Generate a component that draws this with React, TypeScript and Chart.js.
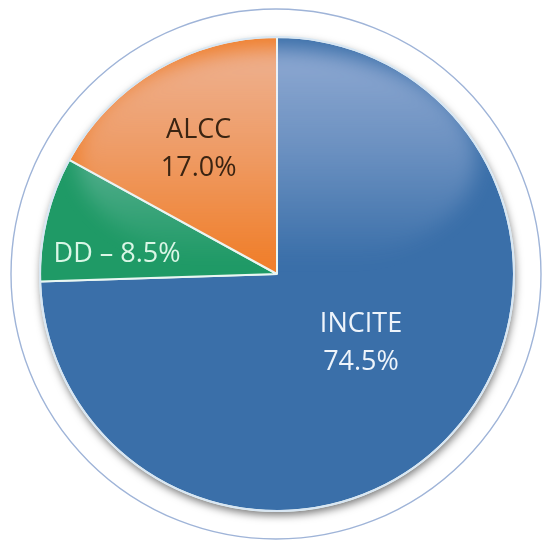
import React, { useEffect, useRef } from "react";
import { Chart, registerables } from "chart.js";

Chart.register(...registerables);

const categories = ["INCITE", "DD", "ALCC"];
const shares = [74.5, 8.5, 17.0];
const labelLines = [["INCITE", "74.5%"], ["DD – 8.5%"], ["ALCC", "17.0%"]];
const sliceColors = ["#3a6fa9", "#1f9a66", "#f07f2c"];
const textColors = ["#eef4fb", "#daf6e6", "#3a2412"];
// label placement: radius fraction and angle tweak (deg) relative to slice mid-angle
const labelRadius = [0.46, 0.68, 0.62];
const labelAngleTweak = [-4.5, -6.5, -1.6];

const decorPlugin = {
  id: "decor",
  beforeDatasetsDraw(chart: any) {
    const arc = chart.getDatasetMeta(0).data[0];
    if (!arc) return;
    const { x, y, outerRadius: r } = arc;
    const ctx = chart.ctx;
    ctx.save();
    // outer thin ring
    ctx.beginPath();
    ctx.arc(x - 1, y, r + 28, 0, Math.PI * 2);
    ctx.strokeStyle = "#9fb4d8";
    ctx.lineWidth = 1.4;
    ctx.stroke();
    // drop shadow
    ctx.beginPath();
    ctx.arc(x, y, r, 0, Math.PI * 2);
    ctx.fillStyle = "#3a6fa9";
    ctx.shadowColor = "rgba(0,0,0,0.55)";
    ctx.shadowBlur = 9;
    ctx.shadowOffsetY = 4;
    ctx.shadowOffsetX = 1;
    ctx.fill();
    ctx.restore();
  },
  afterDatasetsDraw(chart: any) {
    const meta = chart.getDatasetMeta(0);
    const arc = meta.data[0];
    if (!arc) return;
    const { x, y, outerRadius: r } = arc;
    const ctx = chart.ctx;
    // gloss
    ctx.save();
    ctx.beginPath();
    ctx.arc(x, y, r - 1, 0, Math.PI * 2);
    ctx.clip();
    ctx.filter = "blur(10px)";
    const g = ctx.createLinearGradient(0, y - r, 0, y - 0.05 * r);
    g.addColorStop(0, "rgba(235,232,255,0.5)");
    g.addColorStop(0.5, "rgba(235,232,255,0.28)");
    g.addColorStop(1, "rgba(235,232,255,0)");
    ctx.beginPath();
    ctx.ellipse(x, y - 0.48 * r, 0.84 * r, 0.47 * r, 0, 0, Math.PI * 2);
    ctx.fillStyle = g;
    ctx.fill();
    ctx.filter = "none";
    ctx.restore();
    // rim
    ctx.save();
    ctx.beginPath();
    ctx.arc(x, y, r, 0, Math.PI * 2);
    ctx.strokeStyle = "#d8e6f3";
    ctx.lineWidth = 2;
    ctx.stroke();
    ctx.restore();
    // labels
    ctx.save();
    ctx.font = "27px 'Open Sans', 'Noto Sans', sans-serif";
    ctx.textAlign = "center";
    ctx.textBaseline = "middle";
    meta.data.forEach((a: any, i: number) => {
      const mid = (a.startAngle + a.endAngle) / 2 + (labelAngleTweak[i] * Math.PI) / 180;
      const rr = a.outerRadius * labelRadius[i];
      const lx = x + Math.cos(mid) * rr;
      const ly = y + Math.sin(mid) * rr;
      const lines = labelLines[i];
      const lh = 38;
      ctx.fillStyle = textColors[i];
      lines.forEach((t: string, k: number) => {
        ctx.fillText(t, lx, ly + (k - (lines.length - 1) / 2) * lh);
      });
    });
    ctx.restore();
  },
};

export default function App() {
  const ref = useRef<HTMLCanvasElement>(null);
  useEffect(() => {
    document.body.style.margin = "0";
    const chart = new Chart(ref.current!, {
      type: "pie",
      data: {
        labels: categories,
        datasets: [
          {
            data: shares,
            backgroundColor: sliceColors,
            borderColor: "#eaf6f2",
            borderWidth: 2,
          },
        ],
      },
      options: {
        responsive: false,
        animation: false,
        layout: { padding: { left: 39, right: 28, top: 36, bottom: 32 } },
        plugins: {
          legend: { display: false },
          tooltip: { enabled: false },
        },
      },
      plugins: [decorPlugin],
    });
    return () => chart.destroy();
  }, []);
  return (
    <div style={{ width: 543, height: 544, background: "#fff" }}>
      <canvas ref={ref} width={543} height={544} />
    </div>
  );
}
